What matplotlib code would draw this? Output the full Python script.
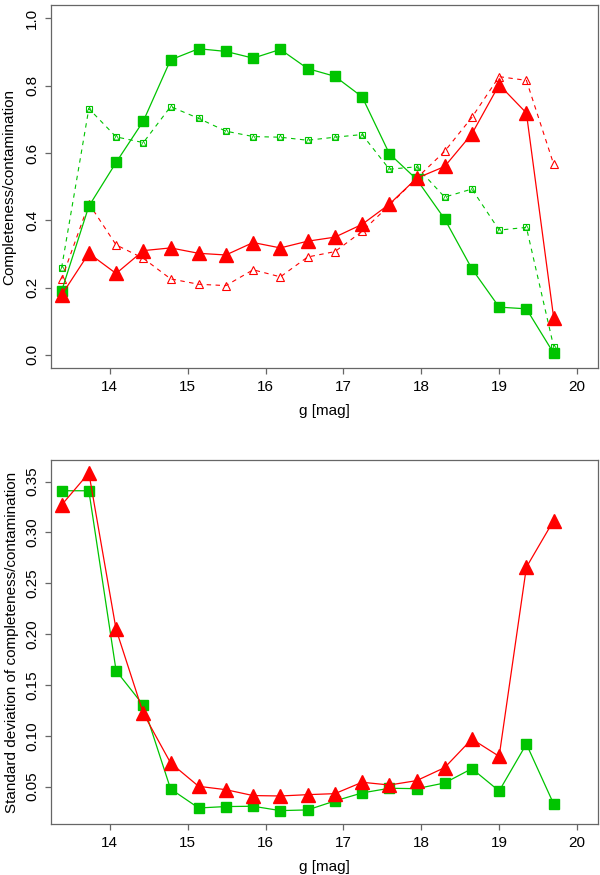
import matplotlib
matplotlib.use("Agg")
import matplotlib.pyplot as plt

plt.rcParams['font.family'] = ['Liberation Sans', 'DejaVu Sans']

GREEN = "#00c400"
RED = "#ff0000"
BOXCOL = "#666666"

g_mag = [13.38, 13.73, 14.08, 14.43, 14.78, 15.14, 15.49, 15.84, 16.19, 16.54,
         16.89, 17.24, 17.59, 17.94, 18.30, 18.65, 19.00, 19.35, 19.70]

# top panel
compl_green = [0.190, 0.442, 0.572, 0.695, 0.877, 0.910, 0.902, 0.882, 0.908, 0.851,
               0.828, 0.767, 0.598, 0.522, 0.404, 0.256, 0.142, 0.137, 0.005]
contam_green = [0.259, 0.732, 0.648, 0.631, 0.738, 0.703, 0.665, 0.649, 0.647, 0.638,
                0.647, 0.655, 0.552, 0.559, 0.469, 0.493, 0.371, 0.379, 0.025]
compl_red = [0.178, 0.302, 0.242, 0.310, 0.318, 0.302, 0.297, 0.334, 0.318, 0.338,
             0.350, 0.388, 0.448, 0.525, 0.560, 0.657, 0.803, 0.719, 0.111]
contam_red = [0.225, 0.450, 0.327, 0.287, 0.226, 0.210, 0.206, 0.253, 0.232, 0.291,
              0.307, 0.367, 0.445, 0.525, 0.605, 0.706, 0.827, 0.816, 0.567]

# bottom panel
sd_green = [0.341, 0.341, 0.164, 0.130, 0.0477, 0.029, 0.0304, 0.0307, 0.0264, 0.0271,
            0.0359, 0.0438, 0.0484, 0.048, 0.0536, 0.0677, 0.0457, 0.0919, 0.033]
sd_red = [0.327, 0.3585, 0.2046, 0.122, 0.0733, 0.0503, 0.047, 0.0412, 0.0408, 0.0421,
          0.0431, 0.0543, 0.0516, 0.0559, 0.0687, 0.0968, 0.0798, 0.2658, 0.3117]

fig = plt.figure(figsize=(6, 8.75), dpi=100)
ax1 = fig.add_axes([0.0845, 0.5790, 0.9122, 0.4153])
ax2 = fig.add_axes([0.0845, 0.0580, 0.9122, 0.4160])


def style(ax):
    for s in ax.spines.values():
        s.set_color(BOXCOL)
        s.set_linewidth(0.9)
    ax.tick_params(colors=BOXCOL, labelcolor="black", length=4.5, width=0.9,
                   labelsize=11, pad=4)
    for lab in ax.get_yticklabels():
        lab.set_rotation(90)
        lab.set_va("center")
    ax.set_xlim(13.24, 20.27)
    ax.set_xticks([14, 15, 16, 17, 18, 19, 20])
    ax.set_xlabel("g [mag]", fontsize=11, labelpad=7)


# dashed contamination lines with small open markers
ax1.plot(g_mag, contam_green, color=GREEN, lw=0.8, dashes=(4, 4))
ax1.plot(g_mag, contam_green, ls="none", marker="s", ms=5, mfc="none",
         mec=GREEN, mew=0.8)
ax1.plot(g_mag, contam_green, ls="none", marker="^", ms=3.5, mfc="none",
         mec=GREEN, mew=0.6)
ax1.plot(g_mag, contam_red, color=RED, lw=0.8, dashes=(4, 4), marker="^",
         ms=5.5, mfc="none", mec=RED, mew=0.8)
# solid completeness lines
ax1.plot(g_mag, compl_green, color=GREEN, lw=0.9, marker="s", ms=7.5,
         mfc=GREEN, mec=GREEN)
ax1.plot(g_mag, compl_red, color=RED, lw=0.9, marker="^", ms=10.5,
         mfc=RED, mec=RED)
ax1.set_ylim(-0.04, 1.04)
ax1.set_yticks([0.0, 0.2, 0.4, 0.6, 0.8, 1.0])
ax1.set_yticklabels(["0.0", "0.2", "0.4", "0.6", "0.8", "1.0"])
ax1.set_ylabel("Completeness/contamination", fontsize=11, labelpad=6)
style(ax1)

ax2.plot(g_mag, sd_green, color=GREEN, lw=0.9, marker="s", ms=7.5,
         mfc=GREEN, mec=GREEN)
ax2.plot(g_mag, sd_red, color=RED, lw=0.9, marker="^", ms=10.5,
         mfc=RED, mec=RED)
ax2.set_ylim(0.013, 0.371)
ax2.set_yticks([0.05, 0.10, 0.15, 0.20, 0.25, 0.30, 0.35])
ax2.set_yticklabels(["0.05", "0.10", "0.15", "0.20", "0.25", "0.30", "0.35"])
ax2.set_ylabel("Standard deviation of completeness/contamination",
               fontsize=11, labelpad=4)
style(ax2)

fig.savefig("out.png", dpi=100)
